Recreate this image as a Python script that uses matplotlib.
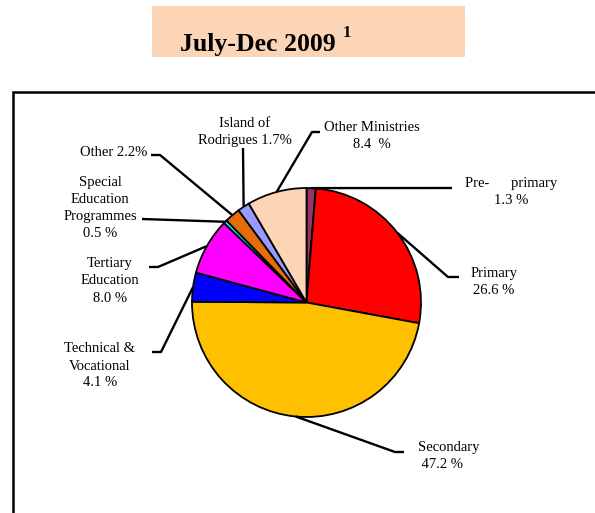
import matplotlib
matplotlib.use("Agg")
import matplotlib.pyplot as plt
from matplotlib.patches import Rectangle
import numpy as np

plt.rcParams['font.family'] = ['Liberation Serif', 'DejaVu Serif']

W, H = 595, 513

# ===== DATA
categories = ["Pre-primary", "Primary", "Secondary", "Technical & Vocational",
              "Tertiary Education", "Special Education Programmes", "Other",
              "Island of Rodrigues", "Other Ministries"]
shares = [1.3, 26.6, 47.2, 4.1, 8.0, 0.5, 2.2, 1.7, 8.4]
colors = ["#993366", "#FF0000", "#FFC000", "#0000FF", "#FF00FF",
          "#00FFFF", "#E46C0A", "#9999FF", "#FCD5B4"]
label_texts = ["Pre-      primary\n1.3 %",
               "Primary\n26.6 %",
               "Secondary\n 47.2 %",
               "Technical &\nVocational\n4.1 %",
               "Tertiary\nEducation\n8.0 %",
               "Special\nEducation\nProgrammes\n0.5 %",
               "Other 2.2%",
               "Island of\nRodrigues 1.7%",
               "Other Ministries\n8.4  %"]

# ===== LAYOUT (pixel coords, y measured from the top)
cx, cy, r = 306.5, 302.5, 114.5
# leader elbow points and label positions / alignment
elbows = [[(452, 188)],
          [(448, 277), (459, 277)],
          [(395, 452), (404, 452)],
          [(161, 352), (152, 352)],
          [(158, 267), (149, 267)],
          [(142, 219)],
          [(160, 155), (151, 155)],
          [(243, 148)],
          [(312, 132), (320, 132)]]
label_pos = [(511, 192, 'center'), (494, 282, 'center'), (418, 456, 'left'),
             (100, 366, 'center'), (110, 281, 'center'), (100, 208, 'center'),
             (147, 152, 'right'), (245, 132, 'center'), (372, 136, 'center')]


def fy(y):
    return H - y


fig = plt.figure(figsize=(W / 100, H / 100), dpi=100)
ax = fig.add_axes((0, 0, 1, 1))

wedges, _ = ax.pie(shares, colors=colors, startangle=90, counterclock=False,
                   center=(cx, fy(cy)), radius=r,
                   wedgeprops=dict(edgecolor='black', linewidth=1.3))

ax.set_xlim(0, W)
ax.set_ylim(0, H)
ax.set_aspect('equal')
ax.axis('off')

# title box
ax.add_patch(Rectangle((152, fy(57)), 313, 51, facecolor='#FBD5B5',
                       edgecolor='none', zorder=0))
ax.text(258, fy(44), "July-Dec 2009", fontsize=18.5, fontweight='bold',
        ha='center', va='center')
ax.text(347, fy(33), "1", fontsize=12, fontweight='bold', ha='center',
        va='center')

# outer frame (runs off the right and bottom edges)
ax.plot([13, 13, W + 5], [fy(H + 5), fy(92), fy(92)], color='black',
        lw=1.8, solid_joinstyle='miter', clip_on=False)

# leader lines + labels
for w, pts, txt, (tx, ty, ha) in zip(wedges, elbows, label_texts, label_pos):
    mid = np.deg2rad((w.theta1 + w.theta2) / 2)
    x0 = cx + r * np.cos(mid)
    y0 = fy(cy) + r * np.sin(mid)
    xs = [x0] + [p[0] for p in pts]
    ys = [y0] + [fy(p[1]) for p in pts]
    ax.plot(xs, ys, color='black', lw=1.7, solid_capstyle='butt', zorder=3)
    ax.text(tx, fy(ty), txt, fontsize=10.5, ha=ha, va='center',
            multialignment='center' if ha == 'center' else 'left',
            linespacing=1.4)

plt.savefig("out.png", dpi=100)
